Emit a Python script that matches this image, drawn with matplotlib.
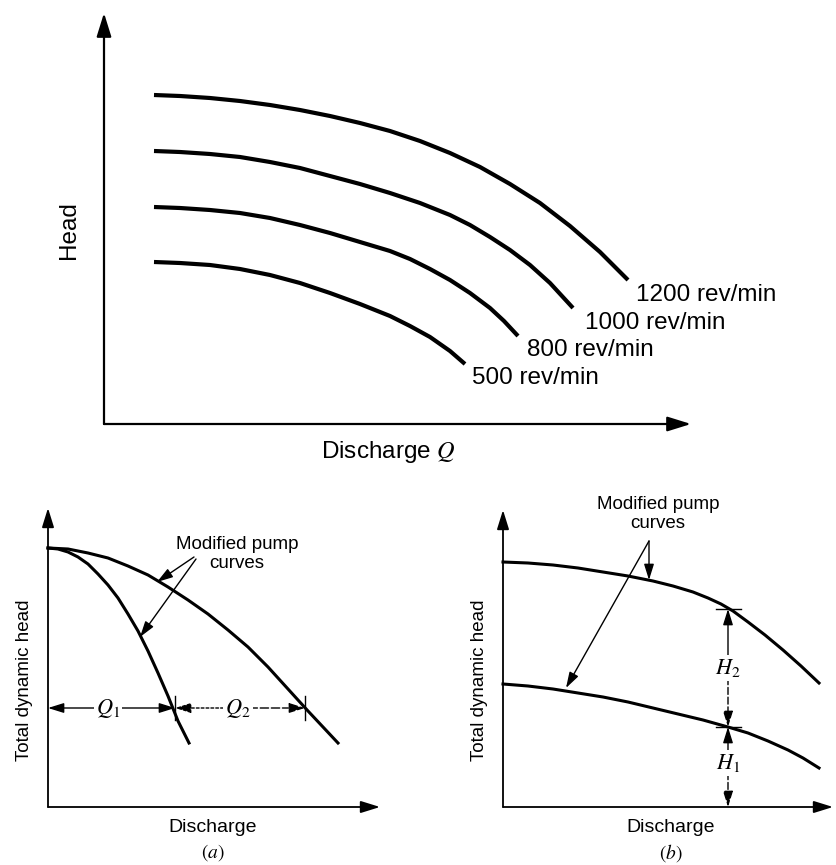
import matplotlib
matplotlib.use("Agg")
import matplotlib.pyplot as plt
import numpy as np

plt.rcParams['font.family'] = ['Liberation Sans', 'DejaVu Sans']
plt.rcParams['mathtext.fontset'] = 'stix'

W, H = 836, 865

# top panel: head vs discharge for four speeds (arbitrary units)
speeds = ["1200 rev/min", "1000 rev/min", "800 rev/min", "500 rev/min"]
q_1200 = [50, 76, 106, 136, 166, 196, 226, 256, 286, 316, 346, 376, 406, 436, 466, 496, 524]
h_1200 = [329, 328, 326, 323, 319, 314, 308, 301, 293, 283, 271, 257, 240, 221, 198, 172, 144]
q_1000 = [50, 76, 106, 136, 166, 196, 226, 256, 286, 316, 346, 366, 386, 406, 426, 446, 469]
h_1000 = [273, 272, 270, 267, 262, 256, 248, 240, 231, 221, 209, 199, 187, 174, 159, 141, 116]
q_800 = [50, 76, 106, 136, 166, 196, 226, 256, 286, 306, 326, 346, 366, 386, 400, 414]
h_800 = [217, 216, 214, 211, 206, 199, 191, 182, 173, 165, 155, 144, 131, 116, 103, 88]
q_500 = [50, 76, 106, 136, 166, 196, 226, 256, 286, 306, 326, 346, 361]
h_500 = [162, 161, 159, 155, 149, 141, 131, 120, 108, 98, 87, 73, 60]

# panel (a): two modified pump curves from the same shutoff head
qa_steep = [0, 10, 20, 30, 40, 50, 60, 70, 80, 90, 100, 110, 120, 130, 141]
ha_steep = [259, 258, 255, 250, 243, 233, 222, 209, 193, 176, 156, 134, 111, 86, 64]
qa_flat = [0, 20, 40, 60, 80, 100, 120, 140, 160, 180, 200, 220, 240, 260, 275, 290]
ha_flat = [259, 258, 254, 249, 241, 232, 220, 207, 193, 177, 160, 140, 118, 96, 80, 64]
ha_dim = 99
qa_1 = 127
qa_2 = 257

# panel (b): two modified pump curves, heads added
qb_up = [0, 25, 50, 75, 100, 125, 150, 170, 190, 205, 218, 230, 245, 262, 280, 298, 316]
hb_up = [245, 244, 242, 239, 235, 231, 226, 221, 215, 209, 203, 196, 185, 172, 157, 141, 124]
qb_low = [0, 25, 50, 75, 100, 125, 150, 175, 200, 225, 245, 265, 285, 300, 316]
hb_low = [123, 121, 118, 114, 110, 105, 99, 93, 87, 80, 74, 66, 57, 49, 39]
qb_dim = 225
hb_1 = 80
hb_2 = 198

fig = plt.figure(figsize=(W / 100, H / 100), dpi=100)


def panel(left, top, right, bottom, ox, oy):
    ax = fig.add_axes([left / W, 1 - bottom / H, (right - left) / W, (bottom - top) / H])
    ax.set_xlim(left - ox, right - ox)
    ax.set_ylim(oy - bottom, oy - top)
    ax.axis('off')
    return ax


def axis_arrows(ax, xtip, ytip, lw, ms):
    style = '-|>,head_length=0.9,head_width=0.28'
    ax.annotate('', xy=(xtip, 0), xytext=(0, 0),
                arrowprops=dict(arrowstyle=style, lw=lw, color='k', shrinkA=0, shrinkB=0,
                                mutation_scale=ms))
    ax.annotate('', xy=(0, ytip), xytext=(0, 0),
                arrowprops=dict(arrowstyle=style, lw=lw, color='k', shrinkA=0, shrinkB=0,
                                mutation_scale=ms))


def pointer(ax, start, end, ls='-'):
    ax.annotate('', xy=end, xytext=start,
                arrowprops=dict(arrowstyle='-|>,head_length=0.8,head_width=0.25', lw=1.0,
                                color='k', shrinkA=0, shrinkB=0, mutation_scale=12,
                                linestyle=ls))


# ---- top panel
ax = panel(0, 0, 836, 470, 104, 424)
axis_arrows(ax, 587, 411, 1.6, 16)
for q, h in [(q_1200, h_1200), (q_1000, h_1000), (q_800, h_800), (q_500, h_500)]:
    ax.plot(q, h, color='k', lw=3.0, solid_capstyle='butt', solid_joinstyle='round')
label_pos = [(532, 129), (481, 101), (423, 74), (368, 46)]
for s, (x, y) in zip(speeds, label_pos):
    ax.text(x, y, s, fontsize=17.5, ha='left', va='center')
ax.text(284, -28, 'Discharge $Q$', fontsize=17.5, ha='center', va='center')
ax.text(-35, 194, 'Head', fontsize=17.5, rotation=90, ha='center', va='center')

# ---- panel (a)
ax = panel(0, 470, 418, 865, 48, 807)
axis_arrows(ax, 332, 299, 1.3, 13)
ax.plot(qa_steep, ha_steep, color='k', lw=2.2, solid_joinstyle='round')
ax.plot(qa_flat, ha_flat, color='k', lw=2.2, solid_joinstyle='round')
ax.plot([qa_1, qa_1], [87, 111], color='k', lw=1.0)
ax.plot([qa_2, qa_2], [87, 111], color='k', lw=1.0)
mid1 = 60
mid2 = 190
pointer(ax, (mid1, ha_dim), (0, ha_dim))
pointer(ax, (mid1, ha_dim), (qa_1, ha_dim))
pointer(ax, (mid2, ha_dim), (qa_1, ha_dim), ls=(0, (2, 1.5)))
pointer(ax, (mid2, ha_dim), (qa_2, ha_dim), ls=(0, (6, 2)))
bb = dict(facecolor='white', edgecolor='none', pad=1.5)
ax.text(mid1, ha_dim, '$Q_1$', fontsize=16, ha='center', va='center', bbox=bb)
ax.text(mid2, ha_dim, '$Q_2$', fontsize=16, ha='center', va='center', bbox=bb)
ax.text(189, 253, 'Modified pump\ncurves', fontsize=13.5, ha='center', va='center',
        linespacing=1.2)
pointer(ax, (146, 250), (109, 225))
pointer(ax, (148, 248), (92, 170))
ax.text(-23, 127, 'Total dynamic head', fontsize=13.5, rotation=90, ha='center', va='center')
ax.text(165, -20, 'Discharge', fontsize=14, ha='center', va='center')
ax.text(165, -46, '$(a)$', fontsize=14, ha='center', va='center')

# ---- panel (b)
ax = panel(418, 470, 836, 865, 503, 807)
axis_arrows(ax, 330, 297, 1.3, 13)
ax.plot(qb_up, hb_up, color='k', lw=2.2, solid_joinstyle='round')
ax.plot(qb_low, hb_low, color='k', lw=2.2, solid_joinstyle='round')
ax.plot([qb_dim - 12, qb_dim + 13], [hb_2, hb_2], color='k', lw=1.0)
ax.plot([qb_dim - 12, qb_dim + 13], [hb_1, hb_1], color='k', lw=1.0)
mid_h2 = 139
mid_h1 = 44
pointer(ax, (qb_dim, mid_h2), (qb_dim, hb_2))
pointer(ax, (qb_dim, mid_h2), (qb_dim, hb_1), ls=(0, (5, 2)))
pointer(ax, (qb_dim, mid_h1), (qb_dim, hb_1))
pointer(ax, (qb_dim, mid_h1), (qb_dim, 0), ls=(0, (5, 2)))
ax.text(qb_dim, mid_h2, '$H_2$', fontsize=16, ha='center', va='center', bbox=bb)
ax.text(qb_dim, mid_h1, '$H_1$', fontsize=16, ha='center', va='center', bbox=bb)
ax.text(155, 293, 'Modified pump\ncurves', fontsize=13.5, ha='center', va='center',
        linespacing=1.2)
pointer(ax, (146, 266), (146, 227))
pointer(ax, (146, 266), (63, 119))
ax.text(-24, 127, 'Total dynamic head', fontsize=13.5, rotation=90, ha='center', va='center')
ax.text(168, -20, 'Discharge', fontsize=14, ha='center', va='center')
ax.text(168, -46, '$(b)$', fontsize=14, ha='center', va='center')

fig.savefig('out.png', dpi=100, facecolor='white')
